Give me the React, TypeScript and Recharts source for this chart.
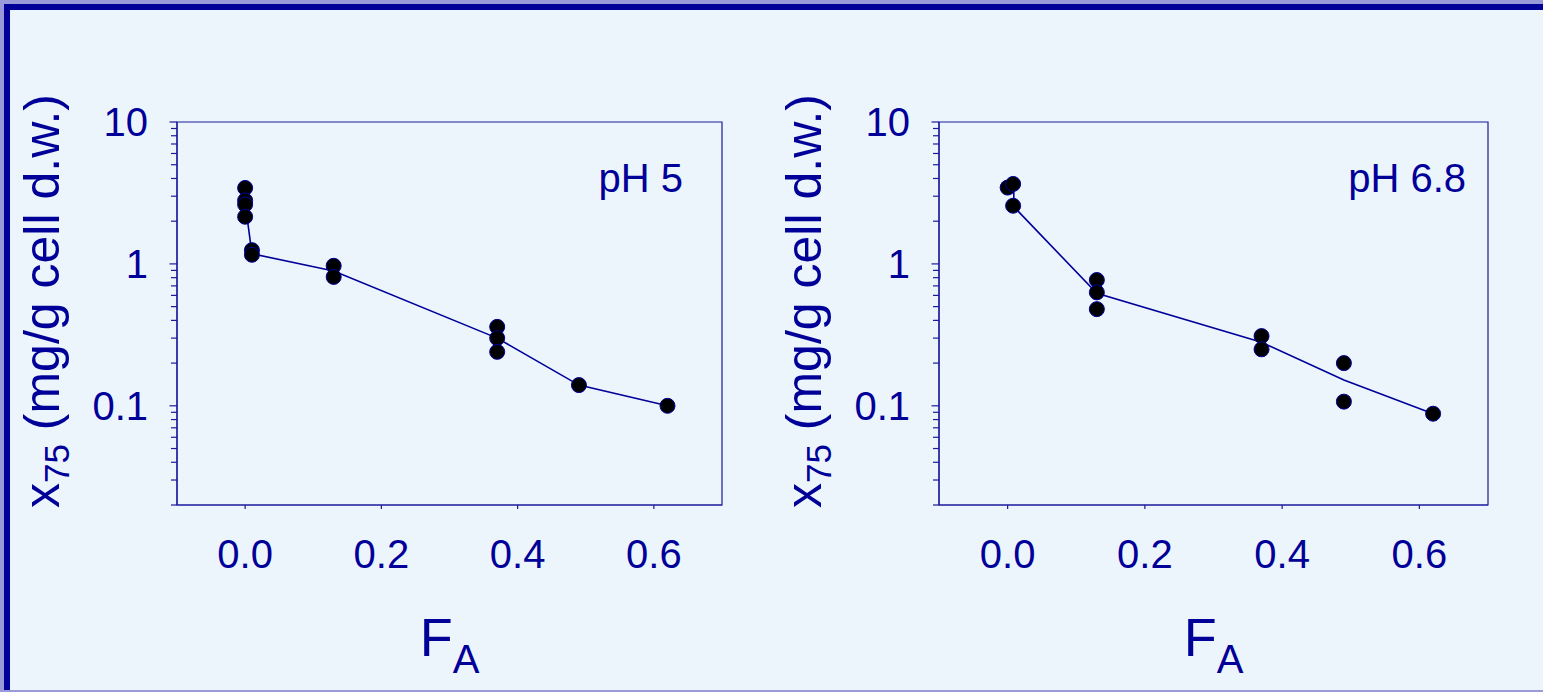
import {
  ComposedChart,
  Line,
  ReferenceArea,
  Scatter,
  XAxis,
  YAxis,
} from "recharts";

// pH 5 measurements
const ph5X = [0, 0, 0, 0, 0.01, 0.01, 0.13, 0.13, 0.37, 0.37, 0.37, 0.49, 0.62];
const ph5Y = [3.43, 2.8, 2.62, 2.15, 1.25, 1.16, 0.97, 0.81, 0.36, 0.3, 0.24, 0.14, 0.1];
const ph5LineX = [0, 0.01, 0.13, 0.37, 0.49, 0.62];
const ph5LineY = [2.69, 1.18, 0.89, 0.3, 0.14, 0.1];

// pH 6.8 measurements
const ph68X = [0, 0.008, 0.008, 0.13, 0.13, 0.13, 0.37, 0.37, 0.49, 0.49, 0.62];
const ph68Y = [3.45, 3.66, 2.57, 0.77, 0.63, 0.48, 0.31, 0.25, 0.2, 0.107, 0.088];
const ph68LineX = [0, 0.009, 0.009, 0.13, 0.37, 0.49, 0.62];
const ph68LineY = [3.37, 3.6, 2.53, 0.62, 0.28, 0.152, 0.088];

const xTicks = [0, 0.2, 0.4, 0.6];
const yMajor = [0.1, 1, 10];
const yTicks = [
  0.02, 0.03, 0.04, 0.05, 0.06, 0.07, 0.08, 0.09, 0.1,
  0.2, 0.3, 0.4, 0.5, 0.6, 0.7, 0.8, 0.9, 1,
  2, 3, 4, 5, 6, 7, 8, 9, 10,
];

const TEXT = "#000099";
const AXIS = "#1a1a9c";
const FONT = "'Liberation Sans', Arial, sans-serif";

const zip = (xs: number[], ys: number[]) => xs.map((x, i) => ({ x, y: ys[i] }));

function YTick(props: any) {
  const { x, y, payload } = props;
  const major = yMajor.some((m) => Math.abs(m - payload.value) < 1e-9);
  return (
    <g>
      <line x1={x - (major ? 7.5 : 6)} x2={x} y1={y} y2={y} stroke={AXIS} strokeWidth={1.2} />
      {major && (
        <text x={x - 29} y={y} dy="0.36em" textAnchor="end" fill={TEXT} fontSize={40} fontFamily={FONT}>
          {String(payload.value)}
        </text>
      )}
    </g>
  );
}

function XTick(props: any) {
  const { x, y, payload } = props;
  return (
    <text x={x} y={y} dy="0.71em" textAnchor="middle" fill={TEXT} fontSize={40} fontFamily={FONT}>
      {payload.value.toFixed(1)}
    </text>
  );
}

type PanelProps = {
  left: number;
  plotWidth: number;
  title: string;
  titleInset: number;
  points: { x: number; y: number }[];
  line: { x: number; y: number }[];
};

function Panel({ left, plotWidth, title, titleInset, points, line }: PanelProps) {
  const width = 177 + plotWidth + 10;
  return (
    <div style={{ position: "absolute", left, top: 0 }}>
      <ComposedChart
        width={width}
        height={692}
        margin={{ top: 122, right: 10, bottom: 107, left: 100 }}
        style={{ overflow: "visible" }}
      >
        <XAxis
          type="number"
          dataKey="x"
          domain={[-0.1, 0.7]}
          ticks={xTicks}
          allowDataOverflow
          height={80}
          tickSize={4}
          tickMargin={31}
          axisLine={{ stroke: AXIS, strokeWidth: 1.2 }}
          tickLine={{ stroke: AXIS, strokeWidth: 1.2 }}
          tick={<XTick />}
          label={{
            content: (p: any) => {
              const vb = p.viewBox;
              return (
                <text x={vb.x + vb.width / 2} y={656} textAnchor="middle" fill={TEXT} fontFamily={FONT}>
                  <tspan fontSize={54}>F</tspan>
                  <tspan fontSize={40} dy={17}>A</tspan>
                </text>
              );
            },
          }}
        />
        <YAxis
          type="number"
          dataKey="y"
          scale="log"
          domain={[0.02, 10]}
          ticks={yTicks}
          allowDataOverflow
          interval={0}
          width={77}
          tickSize={0}
          tickMargin={0}
          tickLine={false}
          axisLine={{ stroke: AXIS, strokeWidth: 1.2 }}
          tick={<YTick />}
          label={{
            content: () => (
              <text
                x={59}
                y={301}
                transform="rotate(-90, 59, 301)"
                textAnchor="middle"
                fill={TEXT}
                fontFamily={FONT}
              >
                <tspan fontSize={50}>x</tspan>
                <tspan fontSize={35} dy={10}>75</tspan>
                <tspan fontSize={50} dy={-10}> (mg/g cell d.w.)</tspan>
              </text>
            ),
          }}
        />
        <ReferenceArea
          x1={-0.1}
          x2={0.7}
          y1={0.02}
          y2={10}
          fill="none"
          stroke={AXIS}
          strokeWidth={1.2}
          ifOverflow="visible"
          label={{
            content: (p: any) => {
              const vb = p.viewBox;
              return (
                <text
                  x={vb.x + vb.width - titleInset}
                  y={vb.y + 70}
                  textAnchor="end"
                  fill={TEXT}
                  fontSize={40}
                  fontFamily={FONT}
                >
                  {title}
                </text>
              );
            },
          }}
        />
        <Scatter
          data={points}
          isAnimationActive={false}
          shape={(p: any) => (
            <circle cx={p.cx} cy={p.cy} r={7.5} fill="#000" stroke={TEXT} strokeWidth={1} />
          )}
        />
        <Line
          data={line}
          dataKey="y"
          type="linear"
          stroke={TEXT}
          strokeWidth={1.6}
          dot={false}
          activeDot={false}
          isAnimationActive={false}
        />
      </ComposedChart>
    </div>
  );
}

export default function App() {
  return (
    <div
      style={{
        position: "absolute",
        left: 0,
        top: 0,
        width: 1543,
        height: 692,
        background: "#9a9ad8",
        overflow: "hidden",
      }}
    >
      <div
        style={{
          position: "absolute",
          left: 4,
          top: 4,
          right: 0,
          bottom: 2,
          background: "#000099",
        }}
      />
      <div
        style={{
          position: "absolute",
          left: 10,
          top: 10,
          right: 0,
          bottom: 2,
          background: "#EDF5FC",
        }}
      />
      <Panel
        left={0}
        plotWidth={545}
        title="pH 5"
        titleInset={39}
        points={zip(ph5X, ph5Y)}
        line={zip(ph5LineX, ph5LineY)}
      />
      <Panel
        left={762}
        plotWidth={549}
        title="pH 6.8"
        titleInset={22}
        points={zip(ph68X, ph68Y)}
        line={zip(ph68LineX, ph68LineY)}
      />
    </div>
  );
}
